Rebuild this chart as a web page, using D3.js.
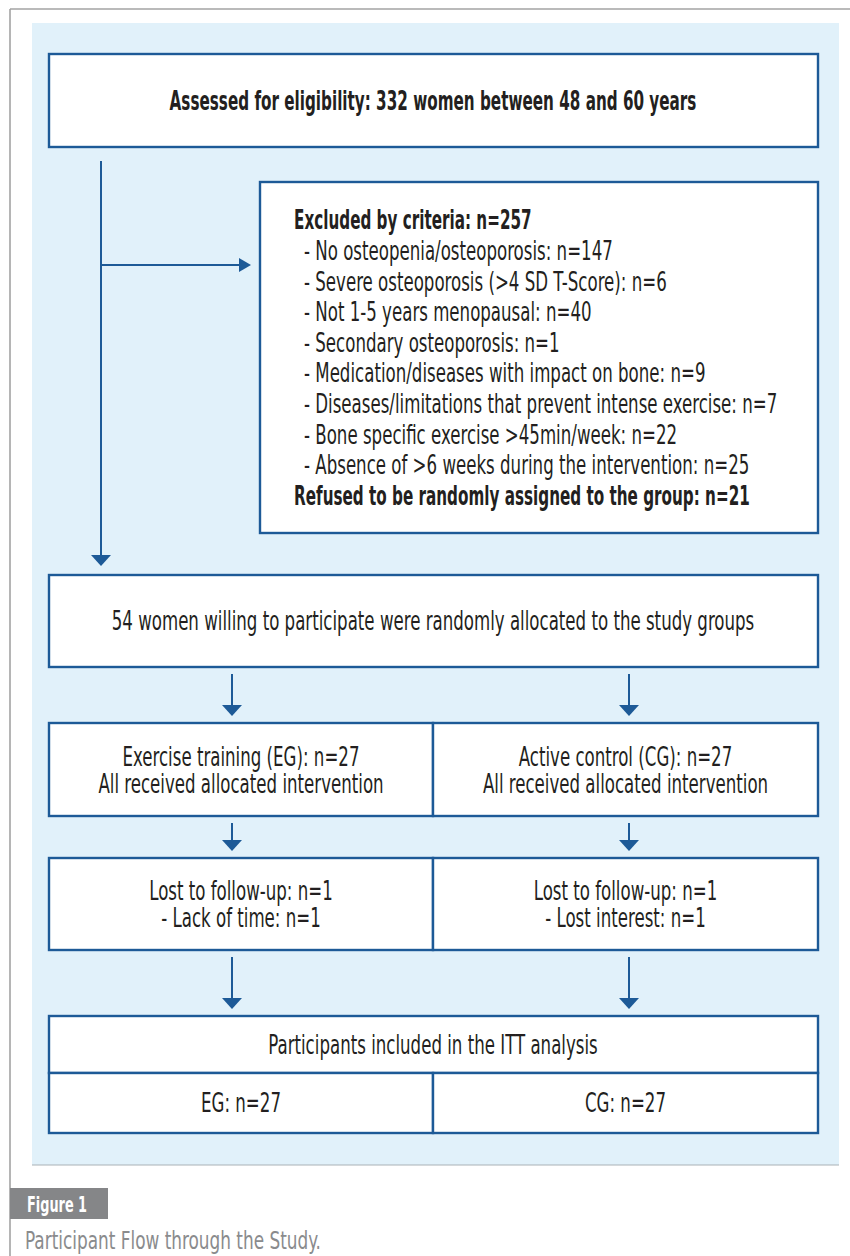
<!DOCTYPE html>
<html>
<head>
<meta charset="utf-8">
<script src="https://cdn.jsdelivr.net/npm/d3@7"></script>
<style>
  html, body { margin: 0; padding: 0; background: #ffffff; }
  svg { display: block; }
</style>
</head>
<body>
<div id="chart"></div>
<script>
// ---------- DATA ----------
const assessedText = "Assessed for eligibility: 332 women between 48 and 60 years";
const excludedTitle = "Excluded by criteria: n=257";
const excludedItems = [
  "- No osteopenia/osteoporosis: n=147",
  "- Severe osteoporosis (>4 SD T-Score): n=6",
  "- Not 1-5 years menopausal: n=40",
  "- Secondary osteoporosis: n=1",
  "- Medication/diseases with impact on bone: n=9",
  "- Diseases/limitations that prevent intense exercise: n=7",
  "- Bone specific exercise >45min/week: n=22",
  "- Absence of >6 weeks during the intervention: n=25"
];
const refusedText = "Refused to be randomly assigned to the group: n=21";
const randomizedText = "54 women willing to participate were randomly allocated to the study groups";
const groups = ["EG", "CG"];
const allocationLines = [
  ["Exercise training (EG): n=27", "All received allocated intervention"],
  ["Active control (CG): n=27", "All received allocated intervention"]
];
const followUpLines = [
  ["Lost to follow-up: n=1", "- Lack of time: n=1"],
  ["Lost to follow-up: n=1", "- Lost interest: n=1"]
];
const ittHeader = "Participants included in the ITT analysis";
const ittLines = ["EG: n=27", "CG: n=27"];
const figureLabel = "Figure 1";
const captionText = "Participant Flow through the Study.";

// ---------- LAYOUT ----------
const W = 850, H = 1256;
const BLUE = "#1d5a97";
const TEXT = "#231f20";
const FONT = "'Liberation Sans Narrow', 'DejaVu Sans Condensed', 'Liberation Sans', Arial, sans-serif";
const FS = 26;

const svg = d3.select("#chart").append("svg")
  .attr("width", W).attr("height", H)
  .attr("viewBox", `0 0 ${W} ${H}`);

function natWidth(str, bold, size) {
  const t = svg.append("text")
    .attr("font-family", FONT)
    .attr("font-size", size)
    .attr("font-weight", bold ? "bold" : "normal")
    .text(str);
  const w = t.node().getComputedTextLength();
  t.remove();
  return w;
}
// calibrate horizontal condensation against the reference widths of two lines
const sxRegular = 643 / natWidth(randomizedText, false, FS);
const sxBold = 527 / natWidth(assessedText, true, FS);

function label(parent, str, x, y, opts = {}) {
  const bold = !!opts.bold;
  const size = opts.size || FS;
  const sx = opts.sx || (bold ? sxBold : sxRegular);
  const g = parent.append("g").attr("transform", `translate(${x},${y}) scale(${sx},1)`);
  g.append("text")
    .attr("x", 0).attr("y", 0)
    .attr("dy", "0.36em")
    .attr("text-anchor", opts.anchor || "middle")
    .attr("font-family", FONT)
    .attr("font-size", size)
    .attr("font-weight", bold ? "bold" : "normal")
    .attr("fill", opts.color || TEXT)
    .text(str);
  return g;
}

// frame
svg.append("line").attr("x1", 10).attr("y1", 9).attr("x2", W).attr("y2", 9)
  .attr("stroke", "#a3a3a3").attr("stroke-width", 1.6);
svg.append("line").attr("x1", 10).attr("y1", 9).attr("x2", 10).attr("y2", H)
  .attr("stroke", "#a3a3a3").attr("stroke-width", 1.6);

// blue panel
svg.append("rect").attr("x", 32).attr("y", 23).attr("width", 807).attr("height", 1142)
  .attr("fill", "#e1f1fa");
svg.append("line").attr("x1", 32).attr("y1", 1165).attr("x2", 839).attr("y2", 1165)
  .attr("stroke", "#a9b1b6").attr("stroke-width", 1.2);

function arrowDown(x, y1, y2) {
  svg.append("line").attr("x1", x).attr("y1", y1).attr("x2", x).attr("y2", y2 - 10)
    .attr("stroke", BLUE).attr("stroke-width", 2);
  svg.append("path").attr("d", `M${x - 10},${y2 - 11} L${x + 10},${y2 - 11} L${x},${y2} Z`)
    .attr("fill", BLUE);
}
function arrowRight(y, x1, x2) {
  svg.append("line").attr("x1", x1).attr("y1", y).attr("x2", x2 - 10).attr("y2", y)
    .attr("stroke", BLUE).attr("stroke-width", 2);
  svg.append("path").attr("d", `M${x2 - 12},${y - 7} L${x2 - 12},${y + 7} L${x2},${y} Z`)
    .attr("fill", BLUE);
}
function box(x, y, w, h) {
  svg.append("rect").attr("x", x).attr("y", y).attr("width", w).attr("height", h)
    .attr("fill", "#ffffff").attr("stroke", BLUE).attr("stroke-width", 2.4);
}

const L = 49, R = 818, MID = 433;
const colX = d3.scalePoint().domain(groups).range([232, 629]);
const colCenter = d3.scalePoint().domain(groups).range([(L + MID) / 2, (MID + R) / 2]);

// top box
box(L, 54, R - L, 93);
label(svg, assessedText, MID, 100.5, { bold: true });

// left flow line + exclusion arrow
arrowDown(101, 161, 566);
arrowRight(265, 101, 251);

// exclusion box
box(260, 182, R - 260, 351);
const lineY = d3.scaleLinear().domain([0, 1]).range([220, 250.6]);
label(svg, excludedTitle, 294, lineY(0), { bold: true, anchor: "start" });
excludedItems.forEach((s, i) => label(svg, s, 304, lineY(i + 1), { anchor: "start" }));
label(svg, refusedText, 294, lineY(excludedItems.length + 1), { bold: true, anchor: "start" });

// randomized box
box(L, 575, R - L, 92);
label(svg, randomizedText, MID, 621);

groups.forEach(g => arrowDown(colX(g), 674, 716));

// allocation boxes
groups.forEach((g, i) => {
  const x0 = i === 0 ? L : MID;
  const x1 = i === 0 ? MID : R;
  box(x0, 723, x1 - x0, 93);
  allocationLines[i].forEach((s, j) => label(svg, s, colCenter(g), 757 + j * 27));
});

groups.forEach(g => arrowDown(colX(g), 823, 851));

// follow-up boxes
groups.forEach((g, i) => {
  const x0 = i === 0 ? L : MID;
  const x1 = i === 0 ? MID : R;
  box(x0, 858, x1 - x0, 92);
  followUpLines[i].forEach((s, j) => label(svg, s, colCenter(g), 890.5 + j * 27));
});

groups.forEach(g => arrowDown(colX(g), 957, 1009));

// ITT box
box(L, 1016, R - L, 57);
label(svg, ittHeader, MID, 1044.5);
groups.forEach((g, i) => {
  const x0 = i === 0 ? L : MID;
  const x1 = i === 0 ? MID : R;
  box(x0, 1073, x1 - x0, 60);
  label(svg, ittLines[i], colCenter(g), 1103);
});

// figure label + caption
svg.append("rect").attr("x", 10).attr("y", 1188).attr("width", 98).attr("height", 31)
  .attr("fill", "#858688");
label(svg, figureLabel, 27, 1204, { bold: true, anchor: "start", size: 22, color: "#ffffff" });
label(svg, captionText, 25, 1240, { anchor: "start", size: 24, color: "#8a8b8d",
  sx: 296 / natWidth(captionText, false, 24) });
</script>
</body>
</html>
